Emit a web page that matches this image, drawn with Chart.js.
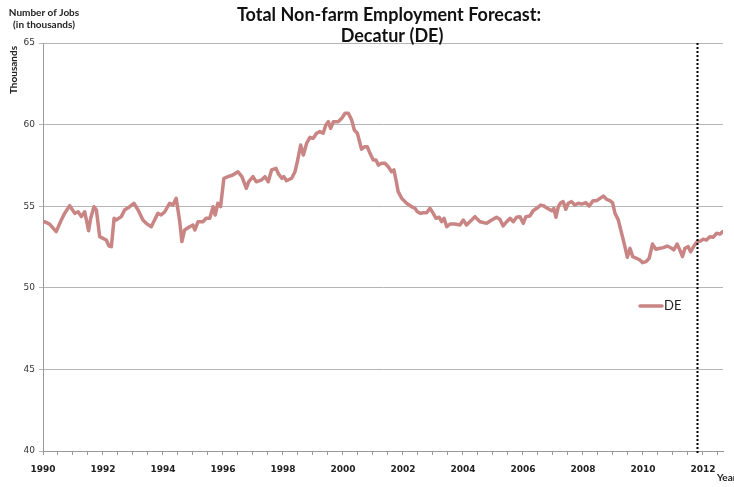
<!DOCTYPE html>
<html>
<head>
<meta charset="utf-8">
<script src="https://cdn.jsdelivr.net/npm/chart.js@4.4.0/dist/chart.umd.min.js"></script>
<style>
  html, body { margin: 0; padding: 0; background: #fff; }
  #wrap { width: 734px; height: 487px; position: relative; }
</style>
</head>
<body>
<div id="wrap"><canvas id="c" width="734" height="487"></canvas></div>
<script>
// Decatur (DE) total non-farm employment, thousands of jobs, by decimal year
const years = [
  1990.00, 1990.06, 1990.22, 1990.44, 1990.61, 1990.72, 1990.89, 1991.06, 1991.17, 1991.28,
  1991.39, 1991.52, 1991.59, 1991.70, 1991.78, 1991.89, 1992.00, 1992.11, 1992.20, 1992.28,
  1992.37, 1992.44, 1992.61, 1992.72, 1992.89, 1993.03, 1993.17, 1993.33, 1993.44, 1993.61,
  1993.72, 1993.83, 1993.94, 1994.06, 1994.22, 1994.33, 1994.44, 1994.56, 1994.63, 1994.72,
  1994.89, 1995.00, 1995.06, 1995.17, 1995.33, 1995.44, 1995.56, 1995.67, 1995.74, 1995.83,
  1995.92, 1996.03, 1996.17, 1996.33, 1996.50, 1996.63, 1996.78, 1996.86, 1997.00, 1997.11,
  1997.28, 1997.40, 1997.51, 1997.62, 1997.77, 1997.84, 1997.96, 1998.03, 1998.12, 1998.29,
  1998.40, 1998.48, 1998.59, 1998.68, 1998.79, 1998.90, 1999.01, 1999.12, 1999.23, 1999.34,
  1999.43, 1999.51, 1999.59, 1999.68, 1999.84, 1999.96, 2000.07, 2000.18, 2000.29, 2000.38,
  2000.48, 2000.62, 2000.73, 2000.81, 2000.90, 2001.01, 2001.10, 2001.18, 2001.29, 2001.40,
  2001.51, 2001.62, 2001.70, 2001.79, 2001.84, 2001.96, 2002.12, 2002.29, 2002.40, 2002.48,
  2002.59, 2002.68, 2002.79, 2002.90, 2003.01, 2003.10, 2003.21, 2003.29, 2003.37, 2003.46,
  2003.57, 2003.73, 2003.90, 2004.01, 2004.12, 2004.29, 2004.40, 2004.57, 2004.79, 2004.96,
  2005.12, 2005.23, 2005.34, 2005.46, 2005.57, 2005.68, 2005.79, 2005.90, 2006.01, 2006.10,
  2006.23, 2006.34, 2006.46, 2006.59, 2006.70, 2006.81, 2006.96, 2007.03, 2007.10, 2007.18,
  2007.26, 2007.34, 2007.43, 2007.51, 2007.62, 2007.73, 2007.84, 2007.96, 2008.10, 2008.21,
  2008.34, 2008.46, 2008.57, 2008.68, 2008.79, 2008.90, 2008.99, 2009.07, 2009.18, 2009.29,
  2009.40, 2009.48, 2009.57, 2009.66, 2009.79, 2009.90, 2009.99, 2010.10, 2010.21, 2010.32,
  2010.43, 2010.57, 2010.68, 2010.81, 2010.96, 2011.03, 2011.14, 2011.23, 2011.32, 2011.40,
  2011.51, 2011.59, 2011.70, 2011.81, 2011.92, 2012.01, 2012.12, 2012.23, 2012.34, 2012.46,
  2012.57, 2012.66
];
const jobsDE = [
  54.03, 54.05, 53.90, 53.44, 54.15, 54.56, 55.03, 54.56, 54.66, 54.36,
  54.66, 53.50, 54.26, 54.97, 54.77, 53.13, 53.03, 52.93, 52.56, 52.52,
  54.26, 54.15, 54.36, 54.77, 54.97, 55.18, 54.77, 54.15, 53.95, 53.74,
  54.15, 54.56, 54.46, 54.66, 55.18, 55.07, 55.48, 54.05, 52.83, 53.54,
  53.74, 53.85, 53.54, 54.05, 54.05, 54.26, 54.26, 54.97, 54.46, 55.18,
  54.97, 56.71, 56.81, 56.91, 57.11, 56.81, 56.10, 56.50, 56.81, 56.50,
  56.60, 56.81, 56.50, 57.22, 57.32, 57.01, 56.71, 56.81, 56.56, 56.71,
  57.11, 57.73, 58.75, 58.14, 58.86, 59.22, 59.16, 59.47, 59.57, 59.47,
  59.98, 60.18, 59.77, 60.18, 60.18, 60.39, 60.69, 60.69, 60.28, 59.67,
  59.47, 58.49, 58.65, 58.65, 58.24, 57.83, 57.83, 57.52, 57.63, 57.63,
  57.42, 57.11, 57.22, 56.40, 55.89, 55.48, 55.18, 54.97, 54.87, 54.66,
  54.56, 54.60, 54.60, 54.87, 54.56, 54.26, 54.32, 54.05, 54.26, 53.74,
  53.91, 53.91, 53.85, 54.15, 53.85, 54.15, 54.36, 54.05, 53.95, 54.15,
  54.32, 54.20, 53.79, 54.05, 54.26, 54.05, 54.32, 54.36, 53.95, 54.36,
  54.40, 54.72, 54.87, 55.07, 55.01, 54.87, 54.72, 54.87, 54.32, 54.97,
  55.21, 55.28, 54.81, 55.18, 55.28, 55.07, 55.18, 55.13, 55.21, 55.01,
  55.34, 55.34, 55.48, 55.62, 55.42, 55.34, 55.21, 54.56, 54.15, 53.34,
  52.52, 51.87, 52.42, 51.91, 51.81, 51.70, 51.54, 51.60, 51.81, 52.68,
  52.36, 52.42, 52.46, 52.56, 52.42, 52.32, 52.68, 52.32, 51.91, 52.42,
  52.52, 52.21, 52.56, 52.83, 52.87, 52.97, 52.93, 53.13, 53.10, 53.34,
  53.29, 53.44
];
// axis range and tick labels
const yearRange = [1990, 2012.67];
const yearLabels = [1990, 1992, 1994, 1996, 1998, 2000, 2002, 2004, 2006, 2008, 2010, 2012];
const jobTicks = [40, 45, 50, 55, 60, 65];
const forecastStart = 2011.8;   // dotted marker where the forecast begins
const titleLines = ['Total Non-farm Employment Forecast:', 'Decatur (DE)'];
const seriesName = 'DE';

const lineColor = '#c98584';

const points = years.map((y, i) => ({ x: y, y: jobsDE[i] }));

// Title, axis captions, legend and the forecast marker
const decorations = {
  id: 'decorations',
  afterDatasetsDraw(chart) {
    const { ctx, chartArea, scales } = chart;
    ctx.save();
    // forecast marker
    const fx = Math.round(scales.x.getPixelForValue(forecastStart)) + 0.5;
    ctx.strokeStyle = '#000';
    ctx.lineWidth = 2;
    ctx.setLineDash([2, 2]);
    ctx.beginPath();
    ctx.moveTo(fx, chartArea.top);
    ctx.lineTo(fx, chartArea.bottom + 2);
    ctx.stroke();
    ctx.setLineDash([]);

    // title
    ctx.fillStyle = '#111';
    ctx.textAlign = 'center';
    ctx.textBaseline = 'middle';
    ctx.font = 'bold 18px Lato';
    ctx.fillText(titleLines[0], 389, 15);
    ctx.fillText(titleLines[1], 392, 36);

    // unit caption, top left
    ctx.font = 'bold 10px Lato';
    ctx.fillStyle = '#222';
    ctx.fillText('Number of Jobs', 44, 13);
    ctx.fillText('(in thousands)', 44, 25);

    // vertical axis title
    ctx.save();
    ctx.translate(14, 70);
    ctx.rotate(-Math.PI / 2);
    ctx.fillText('Thousands', 0, 0);
    ctx.restore();

    // horizontal axis title
    ctx.textAlign = 'left';
    ctx.fillText('Year', 717, 478);

    // legend
    ctx.strokeStyle = lineColor;
    ctx.lineWidth = 3.5;
    ctx.lineCap = 'round';
    ctx.beginPath();
    ctx.moveTo(640, 306);
    ctx.lineTo(662, 306);
    ctx.stroke();
    ctx.fillStyle = '#222';
    ctx.font = '13px Lato';
    ctx.textBaseline = 'middle';
    ctx.fillText(seriesName, 664, 306);
    ctx.restore();
  }
};

new Chart(document.getElementById('c'), {
  type: 'line',
  data: {
    datasets: [{
      label: seriesName,
      data: points,
      borderColor: lineColor,
      backgroundColor: lineColor,
      borderWidth: 3.5,
      pointRadius: 0,
      tension: 0,
      borderJoinStyle: 'round',
      borderCapStyle: 'round'
    }]
  },
  options: {
    responsive: false,
    animation: false,
    parsing: { xAxisKey: 'x', yAxisKey: 'y' },
    layout: { padding: { top: 43, right: 11, left: 0, bottom: 0 } },
    plugins: { legend: { display: false }, title: { display: false }, tooltip: { enabled: false } },
    scales: {
      x: {
        type: 'linear',
        min: yearRange[0],
        max: yearRange[1],
        afterBuildTicks(scale) {
          const t = [];
          for (let v = yearRange[0]; v <= yearRange[1] + 1e-9; v += 0.5) t.push({ value: v });
          scale.ticks = t;
        },
        afterFit(scale) { scale.height = 36; },
        grid: { drawOnChartArea: false, drawTicks: true, tickLength: 4, color: '#999' },
        border: { color: '#999', width: 1 },
        ticks: {
          autoSkip: false,
          maxRotation: 0,
          padding: 9,
          color: '#222',
          font: { family: 'DejaVu Sans', size: 9, weight: 'bold' },
          callback: (v) => yearLabels.includes(v) ? String(v) : ''
        }
      },
      y: {
        min: jobTicks[0],
        max: jobTicks[jobTicks.length - 1],
        afterBuildTicks(scale) { scale.ticks = jobTicks.map(v => ({ value: v })); },
        afterFit(scale) { scale.width = 43; },
        grid: { color: '#b5b5b5', tickLength: 4, drawTicks: true },
        border: { color: '#999', width: 1 },
        ticks: {
          padding: 4,
          color: '#333',
          font: { family: 'DejaVu Sans', size: 9 }
        }
      }
    }
  },
  plugins: [decorations]
});
</script>
</body>
</html>
